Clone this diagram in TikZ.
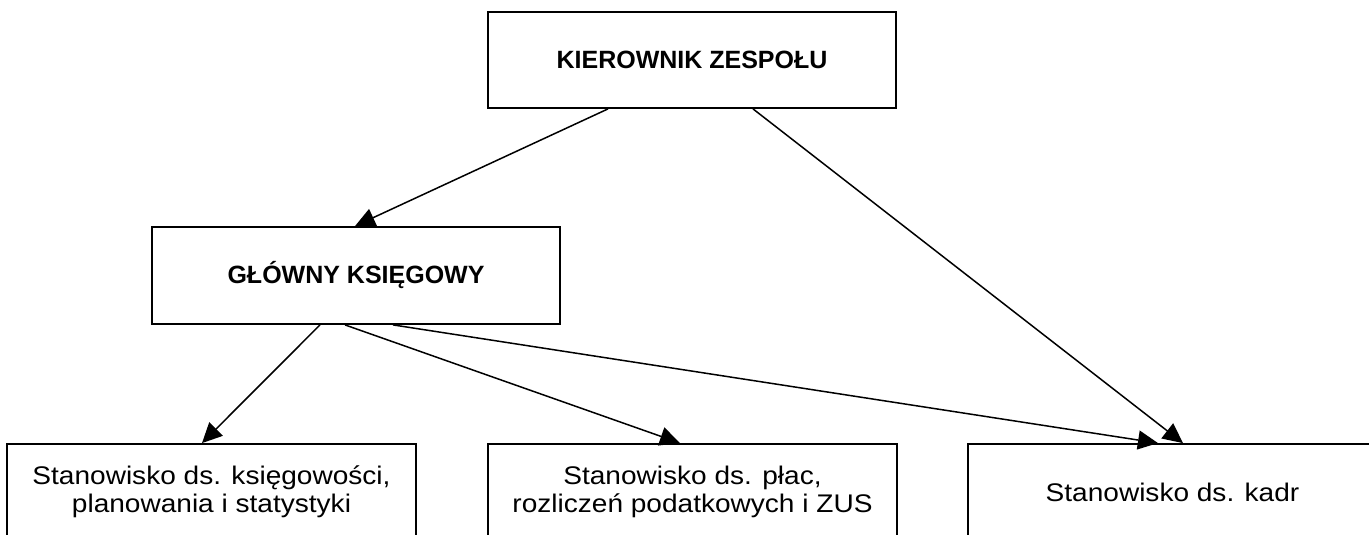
\documentclass[tikz,border=0pt]{standalone}
\usepackage{fontspec}
\setmainfont{Liberation Sans}
\newfontfamily\regf[FakeStretch=1.1]{Liberation Sans}
\newfontfamily\boldf{Liberation Sans Bold}
\usetikzlibrary{arrows.meta}
\begin{document}
\begin{tikzpicture}[x=1pt,y=-1pt,
  box/.style={draw=black, line width=1.8pt, fill=white, inner sep=0pt, align=center},
  headbox/.style={box, font=\boldf\fontsize{25}{28}\selectfont},
  unitbox/.style={box, font=\regf\fontsize{25.5}{28}\selectfont},
  link/.style={line width=1.5pt, -{Triangle[length=20pt,width=19pt]}}]
\useasboundingbox (0,0) rectangle (1369,535);
\clip (0,0) rectangle (1369,535);
\node[headbox, minimum width=408pt, minimum height=96pt] (boss) at (692,60) {KIEROWNIK ZESPOŁU};
\node[headbox, minimum width=408pt, minimum height=97pt] (chief) at (356,275.5) {GŁÓWNY KSIĘGOWY};
\node[unitbox, minimum width=409pt, minimum height=96pt] (acc) at (211.5,492) {Stanowisko ds. księgowości,\\planowania i statystyki};
\node[unitbox, minimum width=409pt, minimum height=96pt] (pay) at (692.5,492) {Stanowisko ds. płac,\\rozliczeń podatkowych i ZUS};
\node[unitbox, minimum width=409pt, minimum height=96pt] (hr) at (1172.5,492) {Stanowisko ds. kadr};
\draw[link] ([xshift=-84pt]boss.south) -- ([xshift=-1pt]chief.north);
\draw[link] ([xshift=61pt]boss.south) -- ([xshift=10.5pt]hr.north);
\draw[link] ([xshift=-36pt]chief.south) -- ([xshift=-9.5pt]acc.north);
\draw[link] ([xshift=-11pt]chief.south) -- ([xshift=-12.5pt]pay.north);
\draw[link] ([xshift=37pt]chief.south) -- ([xshift=-14.5pt]hr.north);
\end{tikzpicture}
\end{document}
